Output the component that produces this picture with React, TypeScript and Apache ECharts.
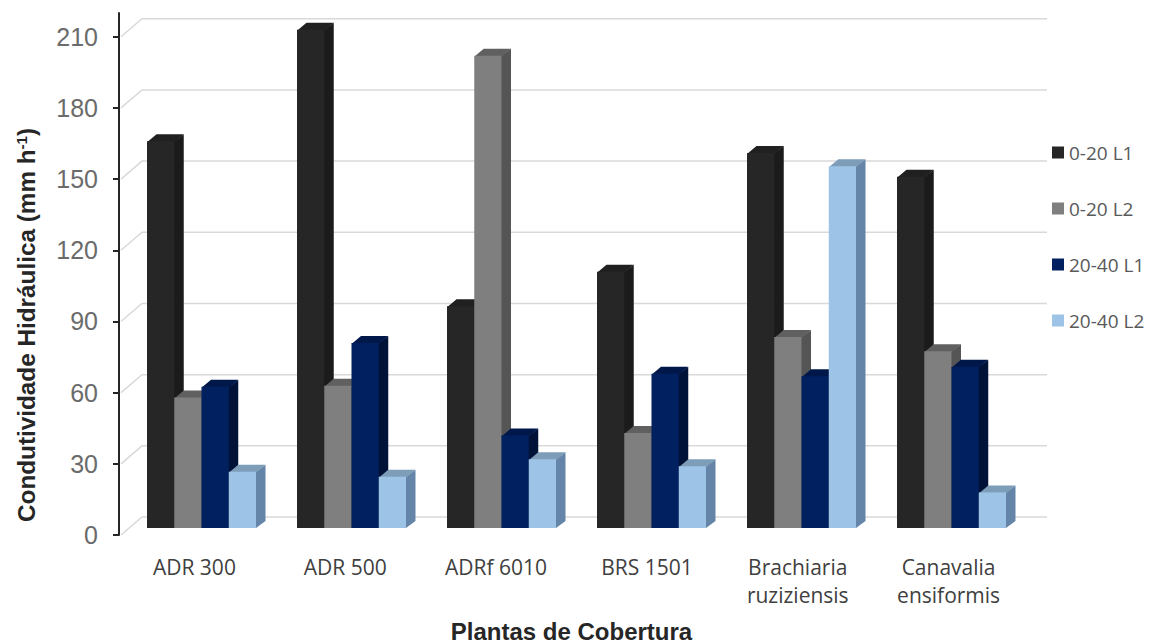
import React, { useEffect, useRef } from "react";
import * as echarts from "echarts";

const categories = ["ADR 300", "ADR 500", "ADRf 6010", "BRS 1501", "Brachiaria\nruziziensis", "Canavalia\nensiformis"];
const yTicks = [0, 30, 60, 90, 120, 150, 180, 210];
const depth020L1 = [163, 210, 93.5, 108, 158, 148];
const depth020L2 = [55, 60, 199, 40, 80.5, 74.5];
const depth2040L1 = [59.5, 78, 39, 65, 64, 68];
const depth2040L2 = [23.7, 21.6, 29, 26, 152.5, 15];

const seriesNames = ["0-20 L1", "0-20 L2", "20-40 L1", "20-40 L2"];
const seriesValues = [depth020L1, depth020L2, depth2040L1, depth2040L2];
const faceColors = ["#262626", "#7f7f7f", "#002060", "#9dc3e6"];
const topColors = ["#202020", "#606060", "#00174a", "#7e9db9"];
const sideColors = ["#1b1b1b", "#555555", "#001238", "#6585a8"];

const BAR_FILL = 109 / 150;
const DX = 9.5;
const DY = 7;

// One extruded column: side and top faces behind the front face.
// The hidden faces run 1px under the front face so no seam shows between them.
function barRenderer(idx: number) {
  return (_params: any, api: any) => {
    const cat = api.value(0);
    const val = api.value(1);
    const top = api.coord([cat, val]);
    const base = api.coord([cat, 0]);
    const w = (api.size([1, 0])[0] * BAR_FILL) / 4;
    const l = top[0] - 2 * w + idx * w;
    const r = l + w;
    return {
      type: "group",
      children: [
        {
          type: "polygon",
          shape: {
            points: [
              [r - 1, top[1] + 1],
              [r + DX, top[1] - DY],
              [r + DX, base[1] - DY],
              [r, base[1]],
              [r - 1, base[1]],
            ],
          },
          style: { fill: sideColors[idx] },
        },
        {
          type: "polygon",
          shape: {
            points: [
              [l, top[1] + 1],
              [l + DX, top[1] - DY],
              [r + DX, top[1] - DY],
              [r, top[1] + 1],
            ],
          },
          style: { fill: topColors[idx] },
        },
        {
          type: "rect",
          shape: { x: l, y: top[1], width: w, height: base[1] - top[1] },
          style: { fill: faceColors[idx] },
        },
      ],
    };
  };
}

// Back-wall gridline with the slanted run back from the front axis.
function gridRenderer(params: any, api: any) {
  const y = api.coord([0, api.value(0)])[1];
  const cs = params.coordSys;
  return {
    type: "polyline",
    shape: {
      points: [
        [cs.x + 2, y],
        [cs.x + 23, y - 18],
        [cs.x + cs.width + 23, y - 18],
      ],
    },
    style: { stroke: "#d9d9d9", lineWidth: 1.5, fill: "none" },
  };
}

export default function App() {
  const ref = useRef<HTMLDivElement>(null);
  useEffect(() => {
    document.body.style.margin = "0";
    const chart = echarts.init(ref.current!, undefined, { renderer: "svg" });
    chart.setOption({
      animation: false,
      backgroundColor: "#ffffff",
      legend: {
        orient: "vertical",
        left: 1052,
        top: 143,
        padding: 0,
        itemWidth: 12,
        itemHeight: 12,
        itemGap: 37,
        icon: "rect",
        data: seriesNames,
        textStyle: { fontFamily: "Open Sans", fontSize: 19, color: "#595959" },
      },
      grid: [
        { left: 119, width: 905, top: 13, height: 522, outerBoundsMode: "none" },
        { left: 126.5, width: 900, top: 6, height: 522, outerBoundsMode: "none" },
      ],
      xAxis: [
        {
          type: "category",
          gridIndex: 0,
          data: categories,
          axisLine: { show: false },
          axisTick: { show: false },
          axisLabel: {
            interval: 0,
            margin: 18,
            lineHeight: 28,
            fontFamily: "Open Sans",
            fontSize: 21,
            color: "#404040",
          },
          name: "Plantas de Cobertura",
          nameLocation: "middle",
          nameGap: 84,
          nameTextStyle: { fontFamily: "Liberation Sans", fontWeight: "bold", fontSize: 24, color: "#262626" },
        },
        {
          type: "category",
          gridIndex: 1,
          data: categories,
          axisLine: { show: false },
          axisTick: { show: false },
          axisLabel: { show: false },
        },
      ],
      yAxis: [
        {
          type: "value",
          gridIndex: 0,
          min: 0,
          max: 220,
          interval: 10,
          splitLine: { show: false },
          axisLine: { show: true, onZero: false, lineStyle: { color: "#262626", width: 2 } },
          axisTick: { show: true, length: 6, customValues: yTicks, lineStyle: { color: "#262626", width: 2 } },
          axisLabel: {
            customValues: yTicks,
            margin: 21,
            fontFamily: "Liberation Sans",
            fontSize: 25,
            color: "#6b6b6b",
          },
          name: "{t|Condutividade Hidráulica (mm h}{s|-1}{t|)}",
          nameLocation: "middle",
          nameGap: 81,
          nameRotate: 90,
          nameTextStyle: {
            padding: [0, 102, 0, 0],
            rich: {
              t: { fontFamily: "Liberation Sans", fontWeight: "bold", fontSize: 24.3, color: "#262626" },
              s: { fontFamily: "Liberation Sans", fontWeight: "bold", fontSize: 15, color: "#262626", verticalAlign: "top", padding: [0, 0, 8, 0] },
            },
          },
        },
        {
          type: "value",
          gridIndex: 1,
          min: 0,
          max: 220,
          interval: 10,
          show: false,
          splitLine: { show: false },
        },
      ],
      series: [
        {
          type: "custom",
          name: "gridlines",
          xAxisIndex: 0,
          yAxisIndex: 0,
          z: 1,
          silent: true,
          encode: { y: 0 },
          data: yTicks.map((v) => [v]),
          renderItem: gridRenderer,
        },
        ...seriesNames.map((name, idx) => ({
          type: "custom",
          name,
          xAxisIndex: 1,
          yAxisIndex: 1,
          z: 2 + idx,
          itemStyle: { color: faceColors[idx] },
          encode: { x: 0, y: 1 },
          data: seriesValues[idx].map((v, c) => [c, v]),
          renderItem: barRenderer(idx),
        })),
      ],
    });
    return () => chart.dispose();
  }, []);
  return <div ref={ref} style={{ width: 1155, height: 643 }} />;
}
